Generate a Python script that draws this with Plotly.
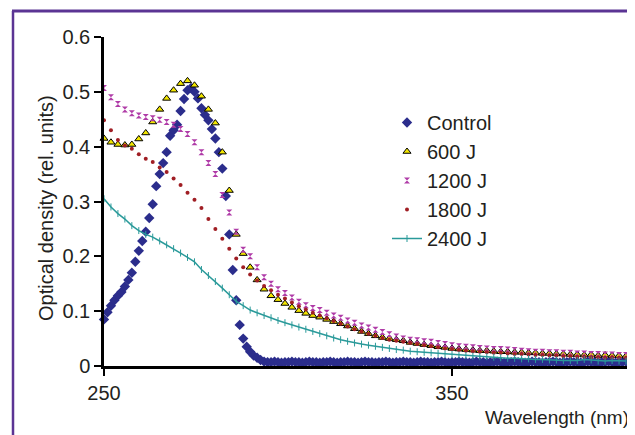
import plotly.graph_objects as go

wavelength = list(range(250, 402, 2))
wavelength_control = list(range(250, 402, 1))

control = [0.085, 0.098, 0.11, 0.12, 0.128, 0.135, 0.145, 0.157, 0.17, 0.19,
           0.21, 0.228, 0.245, 0.27, 0.295, 0.328, 0.35, 0.37, 0.39, 0.42,
           0.43, 0.44, 0.465, 0.487, 0.503, 0.507, 0.5, 0.488, 0.47, 0.458,
           0.448, 0.432, 0.415, 0.39, 0.36, 0.31, 0.24, 0.175, 0.12, 0.075,
           0.05, 0.035, 0.026, 0.019, 0.015, 0.011, 0.008, 0.007, 0.007, 0.008,
           0.007, 0.006, 0.007, 0.007, 0.008, 0.007, 0.007, 0.006, 0.007, 0.008,
           0.007, 0.007, 0.006, 0.007, 0.007, 0.008, 0.007, 0.006, 0.007, 0.007,
           0.008, 0.007, 0.007, 0.006, 0.007, 0.008, 0.007, 0.007, 0.006, 0.007,
           0.007, 0.008, 0.007, 0.006, 0.007, 0.007, 0.008, 0.007, 0.007, 0.006,
           0.007, 0.008, 0.007, 0.007, 0.006, 0.007, 0.007, 0.008, 0.007, 0.006,
           0.007, 0.007, 0.008, 0.007, 0.007, 0.006, 0.007, 0.008, 0.007, 0.007,
           0.006, 0.007, 0.007, 0.008, 0.007, 0.006, 0.007, 0.007, 0.008, 0.007,
           0.007, 0.006, 0.007, 0.008, 0.007, 0.007, 0.006, 0.007, 0.007, 0.008,
           0.007, 0.006, 0.007, 0.007, 0.008, 0.007, 0.007, 0.006, 0.007, 0.008,
           0.007, 0.007, 0.006, 0.007, 0.007, 0.008, 0.007, 0.006, 0.007, 0.007,
           0.008, 0.007]

j600 = [0.415, 0.408, 0.404, 0.403, 0.404, 0.414, 0.425, 0.445, 0.468, 0.488,
        0.503, 0.515, 0.52, 0.512, 0.492, 0.468, 0.443, 0.39, 0.32, 0.24,
        0.205, 0.18, 0.157, 0.14, 0.128, 0.121, 0.114, 0.107, 0.101, 0.096,
        0.092, 0.089, 0.085, 0.081, 0.077, 0.073, 0.068, 0.063, 0.059, 0.055,
        0.052, 0.05, 0.048, 0.046, 0.043, 0.041, 0.039, 0.037, 0.035, 0.034,
        0.032, 0.031, 0.03, 0.029, 0.028, 0.028, 0.027, 0.026, 0.026, 0.025,
        0.025, 0.024, 0.024, 0.023, 0.023, 0.022, 0.022, 0.021, 0.021, 0.02,
        0.021, 0.019, 0.02, 0.019, 0.019, 0.018]

j1200 = [0.507, 0.49, 0.478, 0.468, 0.461, 0.457, 0.454, 0.452, 0.449, 0.445,
         0.44, 0.432, 0.423, 0.408, 0.39, 0.37, 0.35, 0.312, 0.28, 0.245,
         0.212, 0.2, 0.18, 0.162, 0.15, 0.14, 0.133, 0.125, 0.117, 0.111,
         0.106, 0.102, 0.097, 0.092, 0.088, 0.083, 0.079, 0.074, 0.07, 0.066,
         0.062, 0.058, 0.054, 0.05, 0.048, 0.047, 0.045, 0.044, 0.042, 0.04,
         0.038, 0.036, 0.035, 0.034, 0.033, 0.032, 0.031, 0.031, 0.03, 0.029,
         0.028, 0.027, 0.026, 0.026, 0.025, 0.025, 0.024, 0.024, 0.023, 0.023,
         0.022, 0.022, 0.021, 0.021, 0.02, 0.02]

j1800 = [0.448, 0.43, 0.412, 0.402, 0.396, 0.386, 0.378, 0.372, 0.362, 0.354,
         0.342, 0.33, 0.316, 0.303, 0.288, 0.268, 0.25, 0.232, 0.214, 0.196,
         0.18, 0.167, 0.156, 0.146, 0.138, 0.13, 0.123, 0.116, 0.109, 0.103,
         0.097, 0.092, 0.087, 0.082, 0.077, 0.072, 0.067, 0.063, 0.059, 0.055,
         0.051, 0.048, 0.046, 0.044, 0.042, 0.04, 0.038, 0.036, 0.034, 0.032,
         0.031, 0.029, 0.028, 0.027, 0.026, 0.025, 0.024, 0.024, 0.023, 0.022,
         0.022, 0.021, 0.02, 0.02, 0.019, 0.019, 0.018, 0.018, 0.017, 0.017,
         0.016, 0.016, 0.015, 0.016, 0.015, 0.015]

j2400 = [0.305, 0.29, 0.278, 0.268, 0.256, 0.247, 0.24, 0.235, 0.228, 0.221,
         0.214, 0.206, 0.198, 0.19, 0.176, 0.165, 0.154, 0.142, 0.13, 0.118,
         0.11, 0.102, 0.097, 0.092, 0.088, 0.083, 0.079, 0.075, 0.071, 0.067,
         0.063, 0.059, 0.055, 0.051, 0.048, 0.045, 0.042, 0.04, 0.038, 0.036,
         0.034, 0.032, 0.03, 0.029, 0.027, 0.026, 0.025, 0.024, 0.023, 0.022,
         0.021, 0.02, 0.019, 0.018, 0.017, 0.017, 0.016, 0.015, 0.014, 0.014,
         0.013, 0.013, 0.012, 0.012, 0.011, 0.011, 0.01, 0.01, 0.01, 0.012,
         0.011, 0.009, 0.009, 0.01, 0.009, 0.009]

series_names = ["Control", "600 J", "1200 J", "1800 J", "2400 J"]
x_tickvals = [250, 350]
y_tickvals = [0, 0.1, 0.2, 0.3, 0.4, 0.5, 0.6]
y_ticktext = ["0", "0.1", "0.2", "0.3", "0.4", "0.5", "0.6"]

FONT = "Liberation Sans, Arial, sans-serif"
TXT = "#231f20"

fig = go.Figure()
fig.add_trace(go.Scatter(x=wavelength_control, y=control, name=series_names[0], mode="markers",
                         legendgroup="a",
                         marker=dict(symbol="diamond", size=8, color="#2b2d8c"),
                         cliponaxis=False))
fig.add_trace(go.Scatter(x=wavelength, y=j600, name=series_names[1], mode="markers",
                         legendgroup="b",
                         marker=dict(symbol="triangle-up", size=7, color="#f2e600",
                                     line=dict(color="black", width=1)),
                         cliponaxis=False))
fig.add_trace(go.Scatter(x=wavelength, y=j1200, name=series_names[2], mode="markers",
                         legendgroup="c",
                         marker=dict(symbol="hourglass", size=6, color="#b03ca8"),
                         cliponaxis=False))
fig.add_trace(go.Scatter(x=wavelength, y=j1800, name=series_names[3], mode="markers",
                         legendgroup="d",
                         marker=dict(symbol="circle", size=4, color="#a01e24"),
                         cliponaxis=False))
fig.add_trace(go.Scatter(x=wavelength, y=j2400, name=series_names[4], mode="lines+markers",
                         legendgroup="e",
                         line=dict(color="#2a9a9a", width=1.5),
                         marker=dict(symbol="line-ns-open", size=5, color="#2a9a9a",
                                     line=dict(color="#2a9a9a", width=1)),
                         cliponaxis=False))

# the page body has an 8 px margin; screen coordinates below are those of the window
OFF = 8
W, H = 635 - OFF, 435 - OFF
L = 104 - OFF
T = 37 - OFF
B = H - (366 - OFF)
R = W - (632 - OFF)
pw = W - L - R
ph = H - T - B

def px(xs):
    return (xs - OFF - L) / pw

def py(ys):
    return (H - B - (ys - OFF)) / ph

purple = "#5b3494"
fig.add_shape(type="line", xref="paper", yref="paper",
              x0=px(13), x1=px(13), y0=py(440), y1=py(11),
              line=dict(color=purple, width=2.5))
fig.add_shape(type="line", xref="paper", yref="paper",
              x0=px(12), x1=px(640), y0=py(11), y1=py(11),
              line=dict(color=purple, width=3))

fig.add_annotation(text="Optical density (rel. units)", xref="paper", yref="paper",
                   x=px(33), y=py(208), textangle=-90, showarrow=False,
                   font=dict(family=FONT, size=20, color=TXT))
fig.add_annotation(text="Wavelength (nm)", xref="paper", yref="paper",
                   x=px(631), y=py(418), xanchor="right", yanchor="middle",
                   showarrow=False, font=dict(family=FONT, size=19, color=TXT))

fig.update_layout(
    width=W, height=H,
    margin=dict(l=L, r=R, t=T, b=B),
    paper_bgcolor="white", plot_bgcolor="white",
    font=dict(family=FONT, size=20, color=TXT),
    showlegend=True,
    legend=dict(x=px(387), y=py(103), xanchor="left", yanchor="top",
                bgcolor="rgba(0,0,0,0)", tracegroupgap=0,
                font=dict(family=FONT, size=20, color=TXT)),
    xaxis=dict(range=[250, 250 + pw / 3.48], tickvals=x_tickvals,
               ticks="outside", ticklen=7, tickwidth=2, tickcolor="black",
               showline=True, linecolor="black", linewidth=2.5,
               showgrid=False, zeroline=False,
               tickfont=dict(family=FONT, size=20, color=TXT)),
    yaxis=dict(range=[0, 0.6], tickvals=y_tickvals, ticktext=y_ticktext,
               ticks="outside", ticklen=7, tickwidth=2, tickcolor="black",
               showline=True, linecolor="black", linewidth=2.5,
               showgrid=False, zeroline=False,
               tickfont=dict(family=FONT, size=20, color=TXT)),
)

fig.write_html("out.html")
